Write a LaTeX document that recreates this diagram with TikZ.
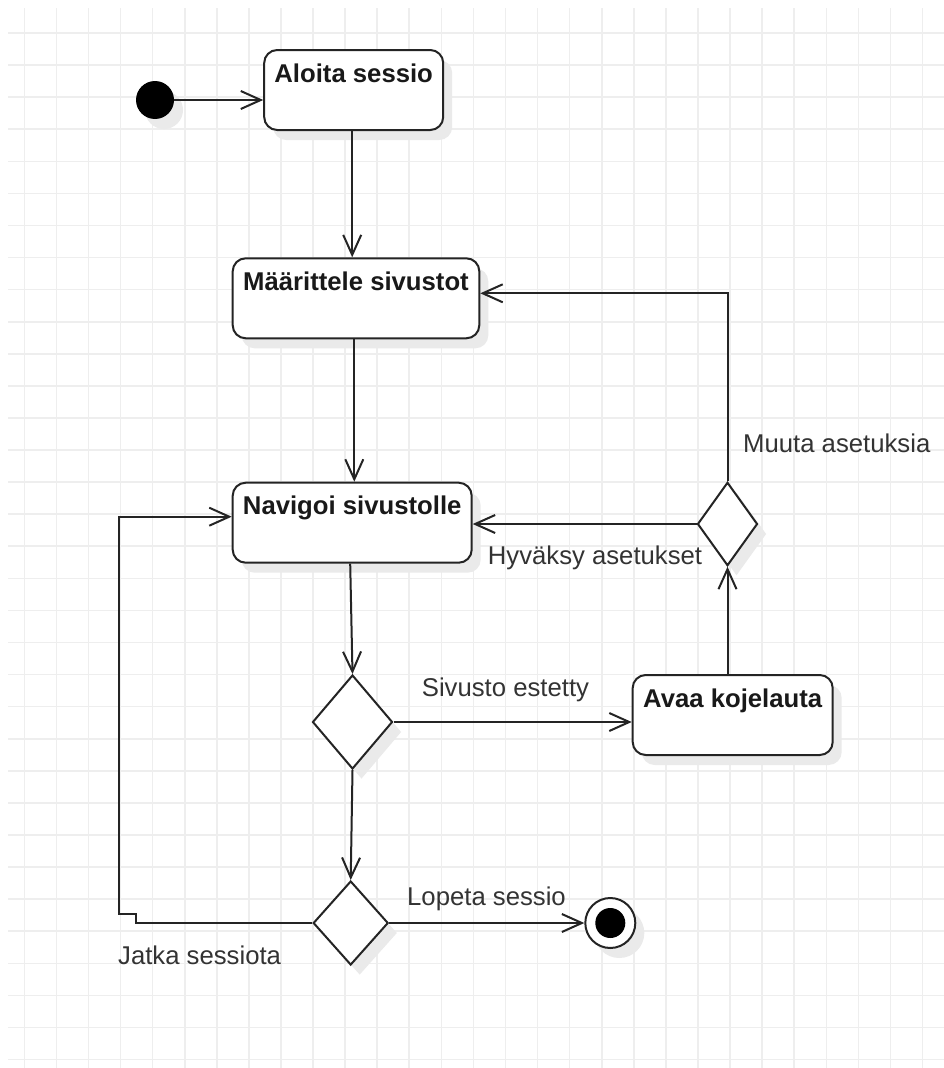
\documentclass[tikz,border=0pt]{standalone}
\usepackage{fontspec}
\setmainfont{Liberation Sans}
\usetikzlibrary{arrows.meta,shapes.geometric,shadows}
\definecolor{viiva}{RGB}{36,36,36}
\definecolor{teksti}{RGB}{51,51,51}
\definecolor{ruudukko}{RGB}{238,238,238}
\definecolor{varjo}{RGB}{234,234,234}
\tikzset{
  varjostus/.style={drop shadow={shadow xshift=9pt,shadow yshift=-10pt,fill=varjo,opacity=1}},
  tila/.style={draw=viiva,line width=2pt,rounded corners=13pt,fill=white,inner sep=0pt,
    text height=32pt,text depth=48pt,text=black!90,
    font=\fontsize{25.7}{30}\selectfont\bfseries,varjostus},
  paatos/.style={diamond,draw=viiva,line width=2pt,fill=white,inner sep=0pt,varjostus},
  kaari/.style={draw=viiva,line width=2pt,->},
  ehto/.style={text=teksti,inner sep=0pt,font=\fontsize{25.7}{30}\selectfont}
}
\begin{document}
\begin{tikzpicture}[x=1pt,y=-1pt,>={Straight Barb[length=20pt,width=18pt]}]
  \useasboundingbox[fill=white] (0,0) rectangle (944,1068);
  % ruudukko
  \foreach \i in {0,...,28}
    \draw[ruudukko,line width=1.6pt] (24.3+32.08*\i,8) -- (24.3+32.08*\i,1068);
  \foreach \j in {0,...,32}
    \draw[ruudukko,line width=1.6pt] (8,33+32.08*\j) -- (944,33+32.08*\j);

  % tilat
  \node[circle,fill=black,minimum size=38pt,inner sep=0pt,varjostus] (alku) at (155,100) {};
  \node[tila,minimum width=179pt] (aloita) at (353.7,90) {Aloita sessio};
  \node[tila,minimum width=246.6pt] (maarittele) at (356,298.3) {Määrittele sivustot};
  \node[tila,minimum width=239pt] (navigoi) at (352.2,522.7) {Navigoi sivustolle};
  \node[tila,minimum width=200pt] (avaa) at (732.7,715) {Avaa kojelauta};
  \node[paatos,minimum width=80pt,minimum height=94pt] (d1) at (352.5,722) {};
  \node[paatos,minimum width=60pt,minimum height=83.4pt] (d2) at (727.5,524) {};
  \node[paatos,minimum width=75pt,minimum height=84pt] (d3) at (350.7,923) {};
  \node[circle,draw=viiva,line width=2pt,fill=white,minimum size=50pt,inner sep=0pt,varjostus,
    path picture={\fill[black] (path picture bounding box.center) circle (15pt);}] (loppu) at (610.3,923) {};

  % siirtymat
  \draw[kaari] (alku.east) -- (alku.east -| aloita.west);
  \draw[kaari] ([xshift=-1.5pt]aloita.south) -- ([xshift=-1.5pt]aloita.south |- maarittele.north);
  \draw[kaari] ([xshift=-1.7pt]maarittele.south) -- ([xshift=-1.7pt]maarittele.south |- navigoi.north);
  \draw[kaari] ([xshift=-2pt]navigoi.south) -- (d1.north);
  \draw[kaari] (d1.east) -- node[ehto,anchor=base,pos=0.47,yshift=26pt] (estetty) {Sivusto estetty} (d1.east -| avaa.west);
  \draw[kaari] (d2.south |- avaa.north) -- (d2.south);
  \draw[kaari] (d2.west) -- (d2.west -| navigoi.east);
  \draw[kaari] (d2.north) |- ([yshift=5pt]maarittele.east);
  \draw[kaari] (d1.south) -- (d3.north);
  \draw[kaari] (d3.east) -- (loppu.west);
  \coordinate (porras) at (136,914);
  \coordinate (vasen) at (119.3,914);
  \draw[kaari] (d3.west) -- (d3.west -| porras) -- (porras) -- (vasen)
    -- (vasen |- 0,516.7) -- ([yshift=6pt]navigoi.west);

  % ehdot
  \node[ehto,anchor=base] (hyvaksy) at (595,564) {Hyväksy asetukset};
  \node[ehto,anchor=base west] (muuta) at (743,452) {Muuta asetuksia};
  \node[ehto,anchor=base west] (lopeta) at (407,905) {Lopeta sessio};
  \node[ehto,anchor=base west] (jatka) at (118,964) {Jatka sessiota};
\end{tikzpicture}
\end{document}
